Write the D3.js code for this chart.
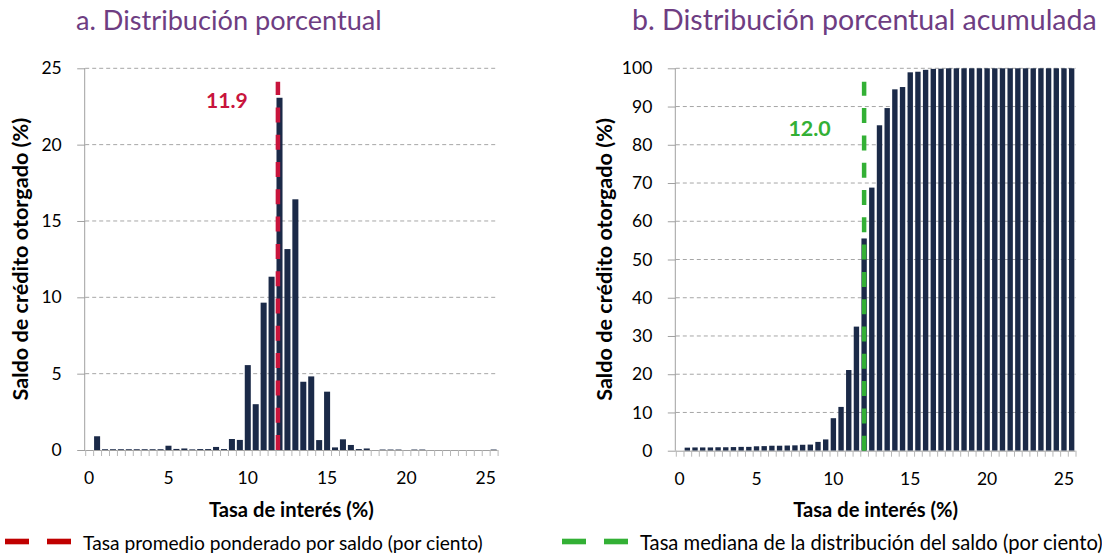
<!DOCTYPE html>
<html><head><meta charset="utf-8">
<script src="https://cdn.jsdelivr.net/npm/d3@7"></script>
<style>html,body{margin:0;padding:0;background:#fff;} svg{display:block;font-family:Lato,"Open Sans",sans-serif;}</style>
</head><body><svg id="c" width="1102" height="556"></svg>
<script>
// ---- data ----
const rates = ["0","0.5","1","1.5","2","2.5","3","3.5","4","4.5","5","5.5","6","6.5","7","7.5","8","8.5","9","9.5",
  "10","10.5","11","11.5","12","12.5","13","13.5","14","14.5","15","15.5","16","16.5","17","17.5","18","18.5","19","19.5",
  "20","20.5","21","21.5","22","22.5","23","23.5","24","24.5","25","25.5"];
const xTickLabels = ["0","5","10","15","20","25"];
const shareValues = [0,0.9,0.05,0.05,0.05,0.05,0.05,0.05,0.05,0.05,0.28,0.07,0.1,0.04,0.06,0.06,0.2,0.06,0.72,0.66,
  5.56,3.0,9.65,11.35,23.07,13.16,16.42,4.47,4.82,0.65,3.82,0.17,0.7,0.33,0.06,0.1,0,0.03,0.03,0.03,
  0,0.03,0.03,0,0,0,0,0,0,0,0,0.03];
const cumulativeValues = [0,0.8,0.85,0.85,0.85,0.9,0.9,0.95,1.0,1.0,1.15,1.2,1.3,1.3,1.35,1.4,1.55,1.6,2.3,2.95,
  8.5,11.45,21.1,32.45,55.5,68.8,85.1,89.6,94.5,95.1,98.95,99.1,99.6,99.85,99.9,100,100,100,100,100,
  100,100,100,100,100,100,100,100,100,100,100,100];
const yTicksA = [0,5,10,15,20,25];
const yTicksB = [0,10,20,30,40,50,60,70,80,90,100];
const meanRate = 11.9;
const medianRate = 12.0;
const titleA = "a. Distribución porcentual";
const titleB = "b. Distribución porcentual acumulada";
const xTitle = "Tasa de interés (%)";
const yTitle = "Saldo de crédito otorgado (%)";
const legendA = "Tasa promedio ponderado por saldo (por ciento)";
const legendB = "Tasa mediana de la distribución del saldo (por ciento)";

const svg = d3.select("#c");
svg.append("rect").attr("width",1102).attr("height",556).attr("fill","#fff");

function fit(sel, target){
  sel.attr("font-size",20);
  const w = sel.node().getComputedTextLength();
  sel.attr("font-size", 20*target/w);
  return sel;
}

const NAVY = "#1b2a48";
const AXIS = "#a0a0a0";
const GRID = "#a6a6a6";

function panel(o){
  const g = svg.append("g");
  const xb = d3.scaleBand().domain(rates).range([o.x0,o.x1]).paddingInner(o.pad).paddingOuter(o.pad/2);
  const xEdge = d3.scaleLinear().domain([0,rates.length]).range([o.x0,o.x1]);
  const xVal = d3.scaleLinear().domain([+rates[0], +rates[rates.length-1]])
    .range([xb(rates[0])+xb.bandwidth()/2, xb(rates[rates.length-1])+xb.bandwidth()/2]);
  const y = d3.scaleLinear().domain([0,o.yMax]).range([o.yb,o.yt]);

  // gridlines
  g.selectAll("line.grid").data(o.yTicks.filter(d=>d>0)).join("line")
    .attr("x1",o.x0).attr("x2",o.x1).attr("y1",d=>y(d)).attr("y2",d=>y(d))
    .attr("stroke",GRID).attr("stroke-width",1).attr("stroke-dasharray","4,3");

  // bars
  g.selectAll("rect.bar").data(o.values).join("rect")
    .attr("x",(d,i)=>xb(rates[i])).attr("width",xb.bandwidth())
    .attr("y",d=>y(d)).attr("height",d=>y(0)-y(d)).attr("fill",NAVY);

  // y axis
  const ya = g.append("g").attr("transform",`translate(${o.x0},0)`)
    .call(d3.axisLeft(y).tickValues(o.yTicks).tickSize(8).tickPadding(15.5).tickFormat(d3.format("d")));
  ya.select(".domain").attr("stroke",AXIS).attr("d",`M-0.5,${o.yt}V${o.yb}`);
  ya.selectAll(".tick line").attr("stroke",AXIS);
  ya.selectAll(".tick text").attr("font-size",17.5).attr("fill","#000").attr("font-family","Lato");

  // x axis edges ticks
  const xa = g.append("g").attr("transform",`translate(0,${o.yb})`)
    .call(d3.axisBottom(xEdge).tickValues(d3.range(0,rates.length+1)).tickSize(6).tickFormat(""));
  xa.select(".domain").attr("stroke",AXIS).attr("d",`M${o.x0},0.5H${o.x1}`);
  xa.selectAll(".tick line").attr("stroke","#b8b8b8");
  // x labels
  const xl = g.append("g").attr("transform",`translate(0,${o.yb})`)
    .call(d3.axisBottom(xb).tickValues(xTickLabels).tickSize(0).tickPadding(22));
  xl.select(".domain").remove();
  xl.selectAll(".tick text").attr("font-size",17.5).attr("fill","#000").attr("font-family","Lato");

  // reference line
  const lx = xVal(o.ref);
  g.append("line").attr("x1",lx).attr("x2",lx).attr("y1",o.yb).attr("y2",o.lineTop)
    .attr("stroke",o.lineColor).attr("stroke-width",4.5).attr("stroke-dasharray","15,12.3");
  const lbl = g.append("text").attr("x",lx+o.lblDx).attr("y",o.lblY).attr("text-anchor","middle")
    .attr("font-weight","bold").attr("fill",o.lineColor).text(d3.format(".1f")(o.ref));
  fit(lbl, o.lblW);

  // titles
  fit(g.append("text").attr("x",o.titleX).attr("y",30).attr("fill","#6e3d82").text(o.title), o.titleW);
  fit(g.append("text").attr("x",(o.x0+o.x1)/2).attr("y",516.7).attr("text-anchor","middle")
    .attr("font-weight","bold").attr("fill","#000").text(xTitle), 165);
  fit(g.append("text").attr("transform",`translate(${o.yTitleX},${(o.yt+o.yb)/2}) rotate(-90)`)
    .attr("text-anchor","middle").attr("dominant-baseline","central")
    .attr("font-weight","bold").attr("fill","#000").text(yTitle), 283);

  // legend
  g.append("rect").attr("x",o.legX).attr("y",538.7).attr("width",24).attr("height",5.6).attr("fill",o.legColor);
  g.append("rect").attr("x",o.legX+42).attr("y",538.7).attr("width",24).attr("height",5.6).attr("fill",o.legColor);
  fit(g.append("text").attr("x",o.legX+78).attr("y",550).attr("fill","#000").text(o.legText), o.legW);
}

panel({x0:85.2,x1:497.6,yt:68.3,yb:450,yMax:25,yTicks:yTicksA,values:shareValues,pad:0.24,
  ref:meanRate,lineColor:"#c8143c",lineTop:81.7,lblDx:-51,lblY:108.3,lblW:41.7,
  title:titleA,titleX:76,titleW:306,yTitleX:20,
  legX:5,legColor:"#c00000",legText:legendA,legW:400});
panel({x0:675.8,x1:1075.5,yt:68.3,yb:450.7,yMax:100,yTicks:yTicksB,values:cumulativeValues,pad:0.3,
  ref:medianRate,lineColor:"#33b035",lineTop:81.7,lblDx:-54.5,lblY:136,lblW:42.4,
  title:titleB,titleX:632,titleW:465,yTitleX:604,
  legX:562,legColor:"#33b035",legText:legendB,legW:463});
</script></body></html>
